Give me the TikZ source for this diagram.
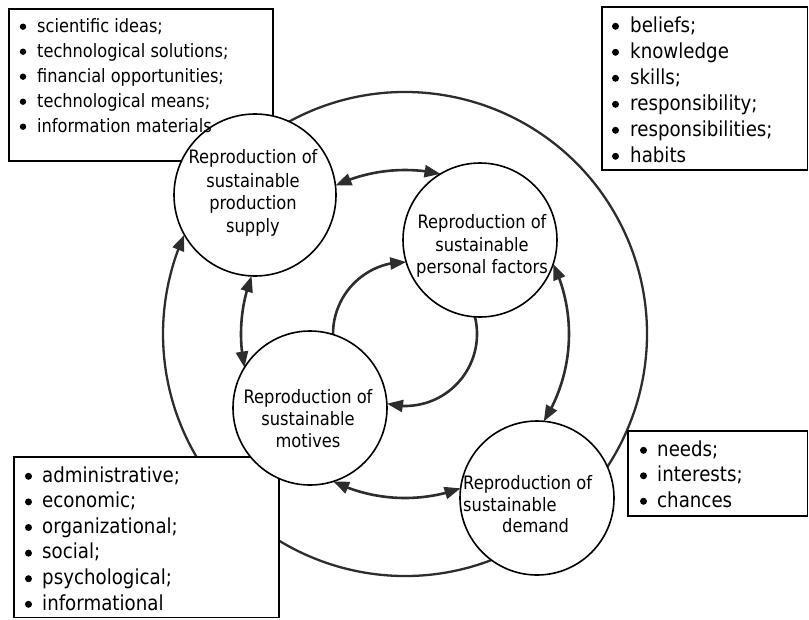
\documentclass[tikz,border=0pt]{standalone}
\usepackage{fontspec}
\setmainfont{DejaVu Sans}[FakeStretch=0.88]
\usetikzlibrary{arrows.meta,bending}
\definecolor{ink}{RGB}{45,45,45}
\begin{document}
\begin{tikzpicture}[x=1pt,y=-1pt,
  ln/.style={draw=ink,line width=2.6pt},
  ringline/.style={draw=ink,line width=2.3pt},
  tip/.tip={Triangle[length=16pt,width=12pt]},
  bx/.style={draw=black,line width=1.5pt,fill=white},
  stage/.style={circle,draw=black,line width=1.6pt,fill=white,inner sep=0pt},
  dotS/.style={circle,fill=black,inner sep=0pt,minimum size=6.4pt},
  dotL/.style={circle,fill=black,inner sep=0pt,minimum size=7pt},
  itemS/.style={anchor=base west,inner sep=0pt,font=\fontsize{18.4}{25}\selectfont},
  itemL/.style={anchor=base west,inner sep=0pt,font=\fontsize{20.7}{26}\selectfont},
  ctext/.style={anchor=base,inner sep=0pt,font=\fontsize{18.5}{22}\selectfont},
  ctextw/.style={anchor=base west,inner sep=0pt,font=\fontsize{18.5}{22}\selectfont}
]
\useasboundingbox (0,0) rectangle (809,619);
\coordinate (C) at (405,334);

% outer ring
\draw[ringline,-tip] ([shift={(-118.6:242)}]C) arc[start angle=-118.6,end angle=204.2,radius=242];

% middle arcs
\draw[ln,tip-tip] ([shift={(-115.1:164)}]C) arc[start angle=-115.1,end angle=-77.5,radius=164];
\draw[ln,tip-tip] ([shift={(-25.3:164)}]C) arc[start angle=-25.3,end angle=32.2,radius=164];
\draw[ln,tip-tip] ([shift={(70.2:164)}]C) arc[start angle=70.2,end angle=116.0,radius=164];
\draw[ln,tip-tip] ([shift={(168.2:164)}]C) arc[start angle=168.2,end angle=200.7,radius=164];

% inner arcs
\draw[ln,-tip] ([shift={(179.7:72)}]C) arc[start angle=179.7,end angle=271.0,radius=72];
\draw[ln,-tip] ([shift={(-13.8:72)}]C) arc[start angle=-13.8,end angle=104.5,radius=72];

% boxes
\draw[bx] (9,9) rectangle (273,161);
\draw[bx] (602,7) rectangle (807.5,170);
\draw[bx] (14,457) rectangle (279,617.5);
\draw[bx] (628,431) rectangle (807.5,516);

% stage circles
\node[stage,minimum size=162pt] (prod) at (255,195) {};
\node[stage,minimum size=154pt] (pers) at (480,240) {};
\node[stage,minimum size=154pt] (mot) at (310,408) {};
\node[stage,minimum size=154pt] (dem) at (537,498) {};

% box texts
\foreach \t [count=\i] in {scientific ideas;,technological solutions;,financial opportunities;,technological means;,information materials}{
  \node[dotS] (tlb\i) at (23,{26.7+25*(\i-1)}) {};
  \node[itemS] (tl\i) at (37,{32+25*(\i-1)}) {\t};}
\foreach \t [count=\i] in {beliefs;,knowledge,skills;,responsibility;,responsibilities;,habits}{
  \node[dotL] (trb\i) at (615.5,{26.3+26*(\i-1)}) {};
  \node[itemL] (tr\i) at (630,{32+26*(\i-1)}) {\t};}
\foreach \t [count=\i] in {administrative;,economic;,organizational;,social;,psychological;,informational}{
  \node[dotL] (blb\i) at (28.5,{476.3+25.6*(\i-1)}) {};
  \node[itemL] (bl\i) at (42,{482+25.6*(\i-1)}) {\t};}
\foreach \t [count=\i] in {needs;,interests;,chances}{
  \node[dotL] (rmb\i) at (643.5,{450.3+25.5*(\i-1)}) {};
  \node[itemL] (rm\i) at (657,{456+25.5*(\i-1)}) {\t};}

% circle texts
\node[ctext] (p1) at (253,163) {Reproduction of};
\node[ctext] (p2) at (253,187) {sustainable};
\node[ctext] (p3) at (253,209) {production};
\node[ctext] (p4) at (253,232) {supply};

\node[ctext] (f1) at (482,228) {Reproduction of};
\node[ctext] (f2) at (482,251) {sustainable};
\node[ctext] (f3) at (482,273) {personal factors};

\node[ctext] (m1) at (308,403) {Reproduction of};
\node[ctext] (m2) at (308,425) {sustainable};
\node[ctext] (m3) at (308,447) {motives};

\node[ctextw] (d1) at (463,489) {Reproduction of};
\node[ctextw] (d2) at (463,511) {sustainable};
\node[ctextw] (d3) at (502,532) {demand};
\end{tikzpicture}
\end{document}
